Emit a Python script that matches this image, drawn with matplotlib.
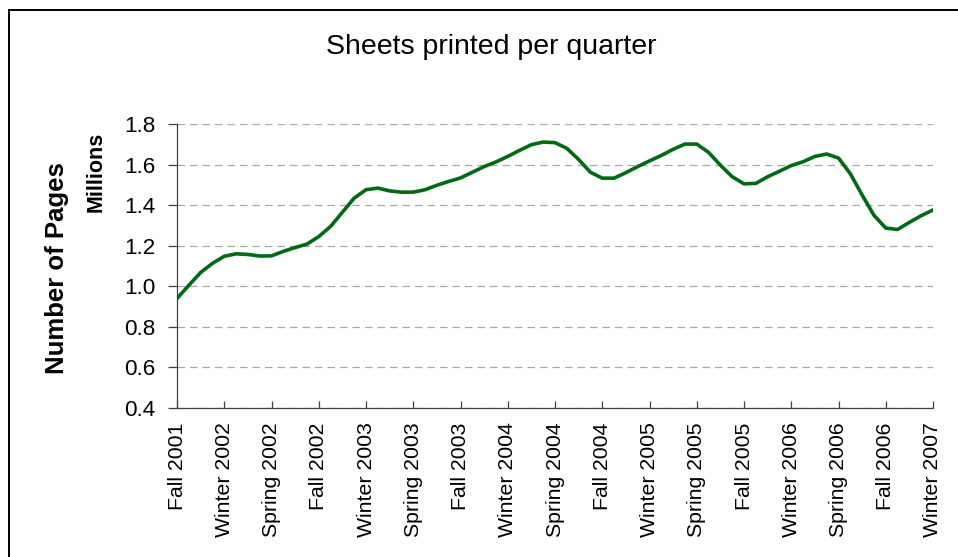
import numpy as np
import matplotlib.pyplot as plt
from matplotlib.lines import Line2D

plt.rcParams['font.family'] = ['Liberation Sans', 'DejaVu Sans']

# quarter labels (one tick per quarter)
quarters = ['Fall 2001', 'Winter 2002', 'Spring 2002', 'Fall 2002', 'Winter 2003',
            'Spring 2003', 'Fall 2003', 'Winter 2004', 'Spring 2004', 'Fall 2004',
            'Winter 2005', 'Spring 2005', 'Fall 2005', 'Winter 2006', 'Spring 2006',
            'Fall 2006', 'Winter 2007']

# pages printed (millions) at 4 samples per quarter
pages = [0.940, 1.005, 1.068, 1.113, 1.148, 1.160, 1.157, 1.149, 1.150, 1.172,
         1.191, 1.208, 1.245, 1.295, 1.365, 1.435, 1.476, 1.484, 1.470, 1.464,
         1.464, 1.476, 1.498, 1.517, 1.534, 1.562, 1.590, 1.613, 1.640, 1.670,
         1.698, 1.711, 1.708, 1.680, 1.625, 1.562, 1.533, 1.533, 1.560, 1.590,
         1.618, 1.645, 1.675, 1.701, 1.701, 1.660, 1.597, 1.540, 1.505, 1.507,
         1.540, 1.567, 1.595, 1.614, 1.640, 1.652, 1.632, 1.555, 1.450, 1.350,
         1.287, 1.280, 1.315, 1.348, 1.376]
samples_per_quarter = 4

x = np.arange(len(pages)) / samples_per_quarter

fig = plt.figure(figsize=(9.58, 5.57), dpi=100)
ax = fig.add_axes([0.1848, 0.2675, 0.7891, 0.5099])

ax.plot(x, pages, color='#006a12', lw=2.6, solid_joinstyle='round', zorder=3)

ax.set_xlim(0, len(quarters) - 1)
ax.set_ylim(0.4, 1.8)
ax.set_yticks(np.arange(0.4, 1.81, 0.2))
ax.set_yticklabels([f'{v:.1f}' for v in np.arange(0.4, 1.81, 0.2)])
ax.set_xticks(range(len(quarters)))
ax.set_xticklabels(quarters, rotation=90)

ax.yaxis.grid(True, color='#a8a8a8', ls=(0, (6, 4)), lw=0.9)
ax.set_axisbelow(True)

for s in ['top', 'right']:
    ax.spines[s].set_visible(False)
for s in ['left', 'bottom']:
    ax.spines[s].set_color('#404040')
    ax.spines[s].set_linewidth(0.9)

ax.tick_params(axis='y', direction='out', length=6.5, width=0.9, color='#404040',
               pad=9, labelsize=16.2)
ax.tick_params(axis='x', direction='in', length=5, width=0.9, color='#404040',
               pad=10.5, labelsize=15.3)

fig.text(0.5125, 0.915, 'Sheets printed per quarter', ha='center', va='center',
         fontsize=20.5)
fig.text(0.0595, 0.519, 'Number of Pages', rotation=90, ha='center', va='center',
         fontsize=18.5, fontweight='bold')
fig.text(0.1002, 0.691, 'Millions', rotation=90, ha='center', va='center',
         fontsize=15.5, fontweight='bold')

# chart area border (left and top edges visible)
fig.add_artist(Line2D([0.0089, 0.0089], [0, 0.982], transform=fig.transFigure,
                      color='black', lw=1.4))
fig.add_artist(Line2D([0.0089, 1.0], [0.982, 0.982], transform=fig.transFigure,
                      color='black', lw=1.4))

fig.savefig('out.png', dpi=100)
